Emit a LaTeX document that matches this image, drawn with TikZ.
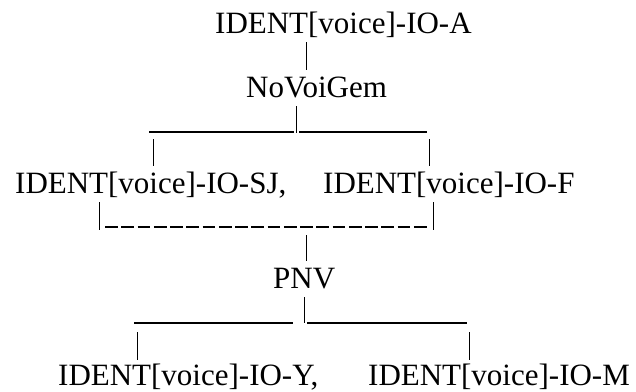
\documentclass[tikz,border=0pt]{standalone}
\usepackage{fontspec}
\setmainfont{Liberation Serif}
\usetikzlibrary{positioning}

\begin{document}
\begin{tikzpicture}[
    x=1pt, y=-1pt,
    every node/.style={font=\fontsize{31}{36}\selectfont},
    lbl/.style={anchor=base west, inner sep=0pt, text height=27pt, text depth=9pt},
    lastrow/.style={lbl, text depth=5pt},
    bar/.style={draw=black, line width=0.9pt},
    rule/.style={draw=black, line width=1.1pt},
    dashrule/.style={rule, dash pattern=on 12.75pt off 3.5pt}
]
\useasboundingbox (0,0) rectangle (636,391);

% constraint names
\node[lbl] (identA) at (215,33) {IDENT[voice]-IO-A};
\node[lbl] (novoigem) at (246,97) {NoVoiGem};
\node[lbl] (identSJ) at (15,193) {IDENT[voice]-IO-SJ,};
\node[lbl] (identF) at (323,193) {IDENT[voice]-IO-F};
\node[lbl] (pnv) at (273,288) {PNV};
\node[lastrow] (identY) at (58,385) {IDENT[voice]-IO-Y,};
\node[lastrow] (identM) at (368,385) {IDENT[voice]-IO-M};

% where the branches sit
\coordinate (b1) at (306,0);
\coordinate (b2) at (296,132);
\coordinate (h1a) at (149,132);
\coordinate (h1b) at (427,132);
\coordinate (b3) at (153,139);
\coordinate (b4) at (429,139);
\coordinate (b5) at (99,230);
\coordinate (b6) at (433,230);
\coordinate (b7) at (306,235);
\coordinate (b8) at (304,323);
\coordinate (h2a) at (134,323);
\coordinate (h2b) at (467,323);
\coordinate (b9) at (137,332);
\coordinate (b10) at (469,332);

% top
\draw[bar] (identA.south -| b1) -- (novoigem.north -| b1);

% NoVoiGem splits in two
\draw[bar] (novoigem.south -| b2) -- ([yshift=-1pt]b2);
\draw[rule] (h1a) -- ([xshift=-2pt]b2);
\draw[rule] ([xshift=3pt]b2) -- (h1b);
\draw[bar] (b3) -- (identSJ.north -| b3);
\draw[bar] (b4) -- (identF.north -| b4);

% the pair joins again
\draw[bar] (identSJ.south -| b5) -- (b5);
\draw[bar] (identF.south -| b6) -- (b6);
\draw[dashrule] ([xshift=6pt,yshift=3pt]b5) -- ([xshift=-5.5pt,yshift=3pt]b6);
\draw[bar] (b7) -- (pnv.north -| b7);

% PNV splits in two
\draw[bar] (pnv.south -| b8) -- (b8);
\draw[rule] (h2a) -- ([xshift=-11pt]b8);
\draw[rule] ([xshift=3pt]b8) -- (h2b);
\draw[bar] (b9) -- ([yshift=-2pt]identY.north -| b9);
\draw[bar] (b10) -- ([yshift=-2pt]identM.north -| b10);

\end{tikzpicture}
\end{document}
